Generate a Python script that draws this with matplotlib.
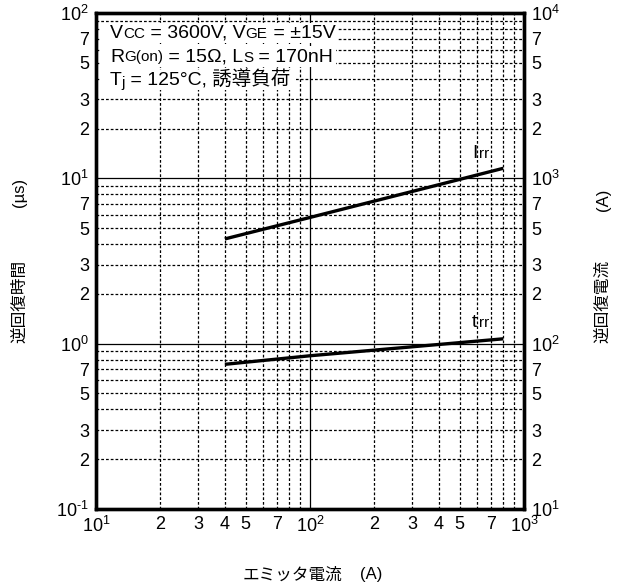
import math
import matplotlib
matplotlib.use("Agg")
import matplotlib.pyplot as plt
from matplotlib.ticker import LogLocator, FuncFormatter

plt.rcParams['font.family'] = ['Liberation Sans', 'Noto Sans CJK JP', 'DejaVu Sans']
plt.rcParams['mathtext.fontset'] = 'custom'
plt.rcParams['mathtext.rm'] = 'Liberation Sans'

# データ (エミッタ電流 A)
current = [40, 100, 800]
irr = [430, 580, 1150]      # 逆回復電流 (A) -> 右軸
trr = [0.75, 0.845, 1.07]   # 逆回復時間 (us) -> 左軸

x_minor_labels = [2, 3, 4, 5, 7]
y_minor_labels = [2, 3, 5, 7]

W, H = 621, 587
fig = plt.figure(figsize=(W / 100, H / 100), dpi=100)
ax = fig.add_axes([96 / W, 1 - 509 / H, 428 / W, 496 / H])
ax2 = ax.twinx()

ax.set_xscale('log')
ax.set_yscale('log')
ax2.set_yscale('log')
ax.set_xlim(10, 1000)
ax.set_ylim(0.1, 100)
ax2.set_ylim(10, 10000)


def major_fmt(v, pos):
    e = int(round(math.log10(v)))
    if e < 0:
        return r'$\mathregular{10^{\text{-}%d}}$' % (-e)
    return r'$\mathregular{10^{%d}}$' % e


def minor_fmt(keep):
    def f(v, pos):
        m = int(round(v / 10 ** math.floor(math.log10(v) + 1e-9)))
        return str(m) if m in keep else ''
    return f


for axis, keep in [(ax.xaxis, x_minor_labels), (ax.yaxis, y_minor_labels),
                   (ax2.yaxis, y_minor_labels)]:
    axis.set_major_locator(LogLocator(base=10, numticks=10))
    axis.set_minor_locator(LogLocator(base=10, subs=range(2, 10), numticks=10))
    axis.set_major_formatter(FuncFormatter(major_fmt))
    axis.set_minor_formatter(FuncFormatter(minor_fmt(keep)))

for a in (ax, ax2):
    a.tick_params(which='both', length=0, labelsize=13, pad=5)

ax.grid(which='major', color='black', lw=0.9, ls='-')
ax.grid(which='minor', color='black', lw=0.9, ls=(0, (2.2, 1.6)))
ax.set_axisbelow(True)

for s in list(ax.spines.values()) + list(ax2.spines.values()):
    s.set_linewidth(2.4)

ax.plot(current, trr, color='black', lw=2.4, solid_capstyle='butt', zorder=5)
ax2.plot(current, irr, color='black', lw=2.4, solid_capstyle='butt', zorder=5)

# 軸ラベル
fig.text(20 / W, 1 - 301 / H, '逆回復時間', fontsize=12, rotation=90, ha='center', va='center')
fig.text(20 / W, 1 - 192 / H, '(µs)', fontsize=12, rotation=90, ha='center', va='center')
fig.text(603 / W, 1 - 301 / H, '逆回復電流', fontsize=12, rotation=90, ha='center', va='center')
fig.text(603 / W, 1 - 200 / H, '(A)', fontsize=12, rotation=90, ha='center', va='center')
fig.text(292 / W, 1 - 575 / H, 'エミッタ電流', fontsize=12, ha='center', va='center')
fig.text(371 / W, 1 - 575 / H, '(A)', fontsize=12, ha='center', va='center')

fig.canvas.draw()
r = fig.canvas.get_renderer()


def put_parts(x, y, parts, gap=0.0):
    for s, size, dy in parts:
        t = fig.text(x / W, 1 - (y - dy) / H, s, fontsize=size, ha='left', va='baseline', zorder=10)
        x += t.get_window_extent(r).width + gap
    return x


# 曲線ラベル
put_parts(472, 158, [('I', 14, 0), ('rr', 11, 0)], gap=2)
put_parts(472, 327, [('t', 14, 0), ('rr', 11, 0)], gap=2)

# 条件テキスト
lines = [
    [('V', 14, 0), ('CC', 11, 0), (' = 3600V, V', 14, 0), ('GE', 11, 0), (' = ±15V', 14, 0)],
    [('R', 14, 0), ('G(on)', 11, 0), (' = 15Ω, L', 14, 0), ('S', 11, 0), (' = 170nH', 14, 0)],
    [('T', 14, 0), ('j', 11, -2), (' = 125°C, 誘導負荷', 14, 0)],
]
y0 = 38
for line in lines:
    x_end = put_parts(110, y0, line)
    left = 101
    fig.patches.append(plt.Rectangle((left / W, 1 - (y0 + 5) / H), (x_end + 3 - left) / W, 20 / H,
                                     transform=fig.transFigure, facecolor='white', edgecolor='none',
                                     zorder=3))
    y0 += 23.5

fig.savefig('out.png', dpi=100)
